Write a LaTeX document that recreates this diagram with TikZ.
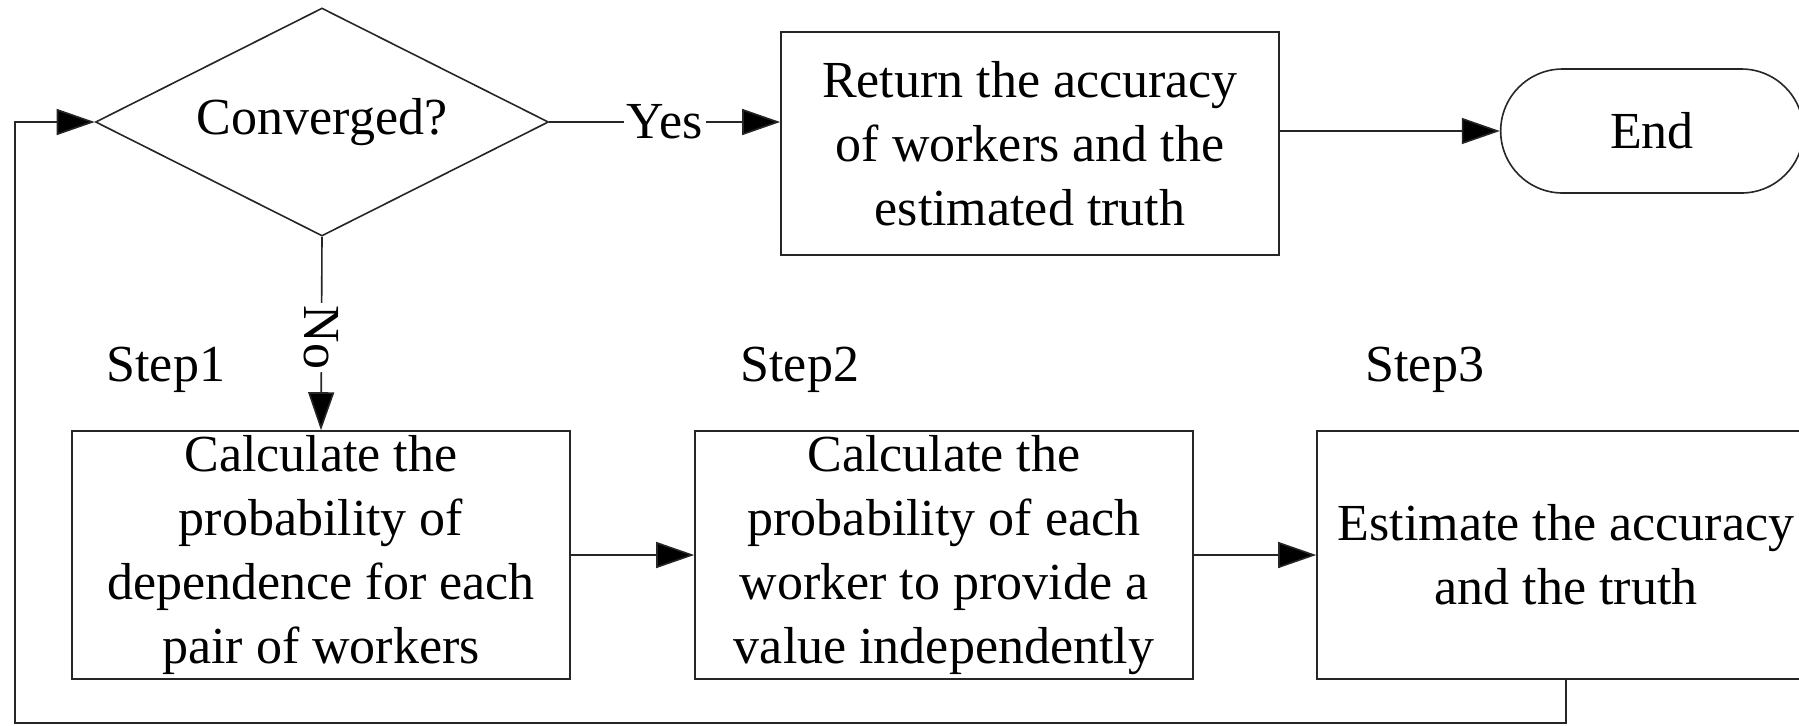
\documentclass[tikz,border=0pt]{standalone}
\usepackage{fontspec}
\setmainfont{Liberation Serif}
\usepackage{tikz}
\usetikzlibrary{arrows.meta}
\usetikzlibrary{calc}
\usetikzlibrary{shapes.geometric, shapes.misc, positioning}

\begin{document}
\begin{tikzpicture}[x=0.5pt,y=-0.5pt,
        font=\fontsize{26}{32}\selectfont,
        flowline/.style={line width=0.8pt,draw=black!85},
        flowarrow/.style={flowline,-{Triangle[length=19pt,width=13pt,fill=black]}},
        stepbox/.style={flowline,rectangle,minimum width=\figflowboxwidth,minimum height=\figflowboxheight,inner sep=0pt,align=center},
        decision/.style={flowline,diamond,aspect=2,minimum width=226.5pt,minimum height=114pt,inner sep=0pt},
        terminal/.style={flowline,rounded rectangle,minimum width=158pt,minimum height=62pt},
        steplabel/.style={inner sep=0pt},
        flowlabel/.style={fill=white,inner sep=1.5pt}]
        \newcommand{\figflowboxwidth}{249pt}
        \newcommand{\figflowboxheight}{124pt}
        \newcommand{\figflowtopy}{122}
        \newcommand{\figflowrowy}{555}
        \newcommand{\figflowloopx}{15}
        \newcommand{\figflowloopy}{723}
        \clip (0,0) rectangle (1799,725);
        \node[decision] (conv) at (322,\figflowtopy) {Converged?};
        \node[stepbox,minimum height=111.5pt] (ret) at (1030,143.5) {Return the accuracy\\of workers and the\\estimated truth};
        \node[terminal] (endn) at (1652,131) {End};
        \node[stepbox] (s1) at (321,\figflowrowy) {Calculate the\\probability of\\dependence for each\\pair of workers};
        \node[stepbox] (s2) at (944,\figflowrowy) {Calculate the\\probability of each\\worker to provide a\\value independently};
        \node[stepbox] (s3) at (1566,\figflowrowy) {Estimate the accuracy\\and the truth};
        \node[steplabel,above right=18.5pt and 17.5pt of s1.north west] (lab1) {Step1};
        \node[steplabel,above right=18.5pt and 23pt of s2.north west] (lab2) {Step2};
        \node[steplabel,above right=18.5pt and 24.5pt of s3.north west] (lab3) {Step3};
        \coordinate (loopcorner) at (\figflowloopx,\figflowloopy);
        \draw[flowarrow] (conv.east) -- node[flowlabel] (yeslab) {Yes} (conv.east -| ret.west);
        \draw[flowarrow] (ret.east |- endn.west) -- (endn.west);
        \draw[flowarrow] (conv.south) -- node[flowlabel,rotate=-90,pos=0.52] (nolab) {No} (s1.north);
        \draw[flowarrow] (s1) -- (s2);
        \draw[flowarrow] (s2) -- (s3);
        \draw[flowarrow] (s3.south) |- (loopcorner) |- (conv.west);
    \end{tikzpicture}
\end{document}
